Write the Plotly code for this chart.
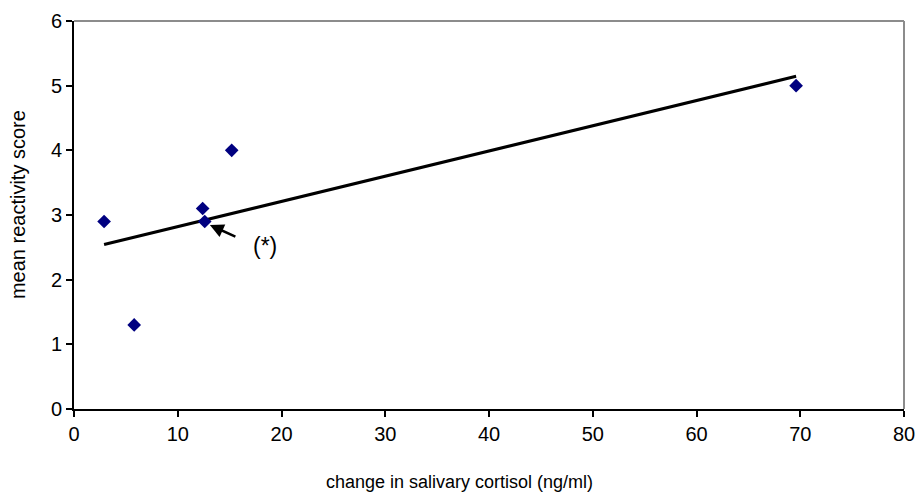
import numpy as np
import plotly.graph_objects as go

cortisol_change = [2.9, 5.8, 12.4, 12.6, 15.2, 69.6]
reactivity_score = [2.9, 1.3, 3.1, 2.9, 4.0, 5.0]
x_ticks = [0, 10, 20, 30, 40, 50, 60, 70, 80]
y_ticks = [0, 1, 2, 3, 4, 5, 6]

slope, intercept = np.polyfit(cortisol_change, reactivity_score, 1)
trend_x = [min(cortisol_change), max(cortisol_change)]
trend_y = [slope * v + intercept for v in trend_x]

font_family = "Liberation Sans, Arial, sans-serif"

fig = go.Figure()
fig.add_trace(go.Scatter(x=trend_x, y=trend_y, mode="lines",
                         line=dict(color="black", width=3), hoverinfo="skip"))
fig.add_trace(go.Scatter(x=cortisol_change, y=reactivity_score, mode="markers",
                         marker=dict(symbol="diamond", size=10.5, color="#000080")))

# arrow pointing to marked point
fig.add_annotation(x=13.1, y=2.845, ax=15.7, ay=2.655, axref="x", ayref="y",
                   xref="x", yref="y", text="", showarrow=True,
                   arrowhead=2, arrowsize=1.1, arrowwidth=2.5, arrowcolor="black")
fig.add_annotation(x=18.4, y=2.52, xref="x", yref="y", text="(*)", showarrow=False,
                   font=dict(family=font_family, size=23, color="black"))

# axis titles (centred as in the reference)
fig.add_annotation(x=0.465, y=-0.188, xref="paper", yref="paper",
                   text="change in salivary cortisol (ng/ml)", showarrow=False,
                   xanchor="center", yanchor="middle",
                   font=dict(family=font_family, size=18, color="black"))
fig.add_annotation(x=-0.0675, y=0.528, xref="paper", yref="paper",
                   text="mean reactivity score", showarrow=False, textangle=-90,
                   xanchor="center", yanchor="middle",
                   font=dict(family=font_family, size=20, color="black"))

# gray top and right border
fig.add_shape(type="line", xref="paper", yref="paper", x0=0, x1=1, y0=1, y1=1,
              line=dict(color="#8c8c8c", width=2))
fig.add_shape(type="line", xref="paper", yref="paper", x0=1, x1=1, y0=0, y1=1,
              line=dict(color="#8c8c8c", width=2))

fig.update_layout(
    width=920, height=496,
    margin=dict(l=74, r=16, t=21, b=87),
    paper_bgcolor="white", plot_bgcolor="white",
    showlegend=False,
    font=dict(family=font_family, size=18, color="black"),
    xaxis=dict(range=[0, 80], tickvals=x_ticks, showgrid=False, zeroline=False,
               automargin=False,
               showline=True, linecolor="black", linewidth=2,
               ticks="outside", ticklen=6, tickwidth=2, tickcolor="black",
               tickfont=dict(size=20)),
    yaxis=dict(range=[0, 6], tickvals=y_ticks, showgrid=False, zeroline=False,
               automargin=False,
               showline=True, linecolor="black", linewidth=2,
               ticks="outside", ticklen=6, tickwidth=2, tickcolor="black",
               tickfont=dict(size=20)),
)

fig.write_html("out.html")
